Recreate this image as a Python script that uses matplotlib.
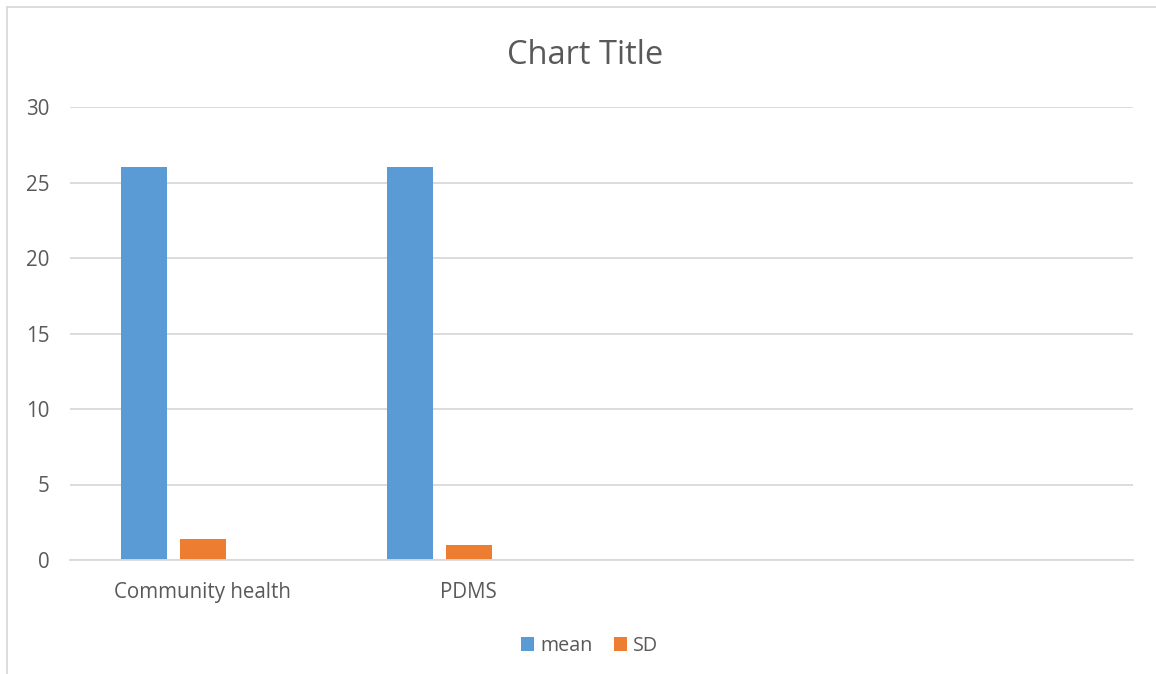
import numpy as np
from matplotlib import pyplot as plt
from matplotlib.lines import Line2D

categories = ["Community health", "PDMS", "", ""]
mean = [26, 26, np.nan, np.nan]
sd = [1.4, 1.0, np.nan, np.nan]

text_color = "#595959"
grid_color = "#D9D9D9"

plt.rcParams["font.family"] = ["Open Sans", "DejaVu Sans"]

fig = plt.figure(figsize=(11.56, 6.74), dpi=100)
ax = fig.add_axes([70 / 1156, 114 / 674, 1063 / 1156, 453 / 674])

x = np.arange(len(categories))
width = 0.173
step = 0.222
ax.bar(x - step, mean, width, color="#5B9BD5", label="mean")
ax.bar(x, sd, width, color="#ED7D31", label="SD")

ax.set_xlim(-0.5, len(categories) - 0.5)
ax.set_ylim(0, 30)
ax.set_yticks(np.arange(0, 31, 5))
ax.set_xticks(x)
ax.set_xticklabels(categories)
ax.yaxis.grid(True, color=grid_color, lw=1.3)
ax.set_axisbelow(True)
for s in ["top", "right", "left"]:
    ax.spines[s].set_visible(False)
ax.spines["bottom"].set_color(grid_color)
ax.spines["bottom"].set_linewidth(1.3)
ax.tick_params(axis="both", length=0, labelsize=14.8, colors=text_color)
ax.tick_params(axis="y", pad=15)
ax.tick_params(axis="x", pad=16)

fig.text(0.506, 1 - 55 / 674, "Chart Title", ha="center", va="center",
         fontsize=23.5, color=text_color)

ax.legend(loc="center", bbox_to_anchor=(0.51, 1 - 646 / 674), bbox_transform=fig.transFigure,
          ncol=2, frameon=False, fontsize=14.2, labelcolor=text_color,
          handlelength=0.65, handleheight=0.65, handletextpad=0.3, columnspacing=1.1)

# chart area border (left and top edges visible)
fig.add_artist(Line2D([7 / 1156, 7 / 1156], [0, 1 - 7 / 674], color=grid_color, lw=1.3))
fig.add_artist(Line2D([7 / 1156, 1], [1 - 7 / 674, 1 - 7 / 674], color=grid_color, lw=1.3))

plt.savefig("out.png", dpi=100)
